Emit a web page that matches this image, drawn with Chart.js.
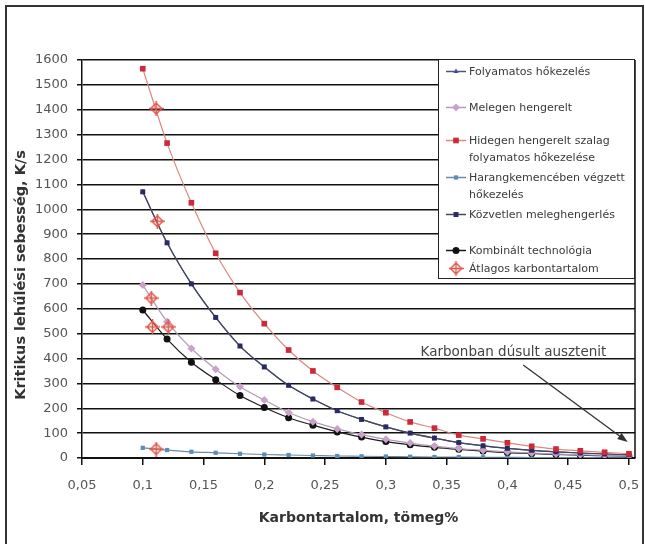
<!DOCTYPE html>
<html>
<head>
<meta charset="utf-8">
<title>Kritikus lehűlési sebesség</title>
<script src="https://cdn.jsdelivr.net/npm/chart.js@4.4.1/dist/chart.umd.min.js"></script>
<style>
  html, body { margin: 0; padding: 0; background: #fff; }
  #wrap { position: relative; width: 645px; height: 544px; overflow: hidden; }
  #legend {
    position: absolute; left: 438px; top: 59px; width: 197px; height: 220px;
    background: #fff; border: 1px solid #222; box-sizing: border-box;
    font-family: "DejaVu Sans", sans-serif; font-size: 11px; color: #3a3a3a;
  }
  .item { position: absolute; left: 6px; display: flex; align-items: flex-start; }
  .item canvas { width: 24px; height: 17px; }
  .item span { line-height: 17px; white-space: nowrap; }
</style>
</head>
<body>
<div id="wrap">
  <canvas id="chart" width="645" height="544"></canvas>
  <div id="legend"></div>
</div>
<script>
// x values (carbon content, mass %)
const carbon = [0.10, 0.12, 0.14, 0.16, 0.18, 0.20, 0.22, 0.24, 0.26, 0.28, 0.30,
                0.32, 0.34, 0.36, 0.38, 0.40, 0.42, 0.44, 0.46, 0.48, 0.50];

// critical cooling rate, K/s
const folyamatos  = [1070, 865, 700, 565, 450, 366, 292, 237, 190, 155, 125, 100, 80, 62, 49, 39, 31, 25, 20, 16, 13];
const melegen     = [695, 548, 440, 357, 286, 233, 183, 146, 117, 94, 75, 60, 48, 38, 31, 25, 20, 16, 13, 10, 8];
const hidegen     = [1565, 1266, 1026, 823, 665, 540, 434, 350, 284, 225, 182, 145, 120, 92, 77, 61, 47, 36, 29, 23, 17];
const harang      = [41, 32, 25, 21, 17, 14, 12, 10, 8, 7, 6, 5, 4, 4, 3, 3, 2, 2, 2, 1, 1];
const kozvetlen   = [1070, 865, 700, 565, 450, 366, 292, 237, 190, 155, 125, 100, 80, 62, 49, 39, 31, 25, 20, 16, 13];
const kombinalt   = [595, 478, 385, 315, 251, 203, 162, 132, 105, 84, 66, 53, 43, 35, 28, 22, 18, 14, 11, 9, 7];

// average carbon content markers
const atlagX = [0.111, 0.112, 0.107, 0.108, 0.121, 0.111];
const atlagY = [1405, 952, 643, 527, 527, 36];

// annotation
const noteText = 'Karbonban dúsult ausztenit';
const noteAt = [0.405, 425];
const arrowFrom = [0.413, 374];
const arrowTo = [0.499, 64];

const yTitle = 'Kritikus lehűlési sebesség, K/s';
const xTitle = 'Karbontartalom, tömeg%';

function pts(xs, ys) { return xs.map((x, i) => ({ x: x, y: ys[i] })); }

// little diamond with a cross for the average markers
function starImg() {
  const c = document.createElement('canvas');
  c.width = 15; c.height = 15;
  const g = c.getContext('2d');
  g.strokeStyle = '#e0584c';
  g.lineWidth = 1.5;
  g.beginPath();
  g.moveTo(7.5, 2); g.lineTo(13, 7.5); g.lineTo(7.5, 13); g.lineTo(2, 7.5); g.closePath();
  g.stroke();
  g.beginPath();
  g.moveTo(7.5, 0); g.lineTo(7.5, 15);
  g.moveTo(0, 7.5); g.lineTo(15, 7.5);
  g.stroke();
  return c;
}
const star = starImg();

function series(label, ys, line, mark, style, r, order) {
  return {
    label: label,
    data: pts(carbon, ys),
    borderColor: line,
    borderWidth: 1.2,
    backgroundColor: mark,
    pointBackgroundColor: mark,
    pointBorderColor: mark,
    pointBorderWidth: 0,
    pointStyle: style,
    pointRadius: r,
    cubicInterpolationMode: 'monotone',
    showLine: true,
    order: order
  };
}

const datasets = [
  {
    label: 'Átlagos karbontartalom',
    data: pts(atlagX, atlagY),
    showLine: false,
    pointStyle: star,
    borderColor: '#e0584c',
    backgroundColor: '#e0584c',
    order: 0
  },
  series('Hidegen hengerelt szalag folyamatos hőkezelése', hidegen, '#d98a80', '#cc2a3a', 'rect', 4, 1),
  series('Közvetlen meleghengerlés', kozvetlen, '#45455f', '#2a2a66', 'rect', 3.5, 2),
  series('Folyamatos hőkezelés', folyamatos, '#4a5580', '#3e4f96', 'triangle', 3, 3),
  series('Melegen hengerelt', melegen, '#b39ab8', '#c8a2c8', 'rectRot', 4, 4),
  series('Kombinált technológia', kombinalt, '#1a1a1a', '#111111', 'circle', 3.5, 5),
  series('Harangkemencében végzett hőkezelés', harang, '#6a8aa8', '#5b8db5', 'rect', 3, 6)
];

const frame = {
  id: 'frame',
  beforeDraw(chart) {
    const ctx = chart.ctx;
    ctx.save();
    ctx.fillStyle = '#fff';
    ctx.fillRect(0, 0, chart.width, chart.height);
    ctx.strokeStyle = '#333';
    ctx.lineWidth = 2;
    ctx.strokeRect(6, 6, 637, 560);
    ctx.restore();
  },
  afterDraw(chart) {
    const a = chart.chartArea, ctx = chart.ctx;
    ctx.save();
    ctx.strokeStyle = '#111';
    ctx.lineWidth = 1.5;
    ctx.beginPath();
    ctx.moveTo(a.right, a.top);
    ctx.lineTo(a.right, a.bottom);
    ctx.stroke();
    // y axis title, placed a little below the middle like the original
    ctx.translate(21, 275);
    ctx.rotate(-Math.PI / 2);
    ctx.font = 'bold 14.5px "DejaVu Sans", sans-serif';
    ctx.fillStyle = '#333';
    ctx.textAlign = 'center';
    ctx.textBaseline = 'middle';
    ctx.fillText(yTitle, 0, 0);
    ctx.restore();
  }
};

const note = {
  id: 'note',
  afterDatasetsDraw(chart) {
    const ctx = chart.ctx, x = chart.scales.x, y = chart.scales.y;
    ctx.save();
    ctx.font = '13.5px "DejaVu Sans", sans-serif';
    ctx.fillStyle = '#444';
    ctx.textAlign = 'center';
    ctx.textBaseline = 'middle';
    ctx.fillText(noteText, x.getPixelForValue(noteAt[0]), y.getPixelForValue(noteAt[1]));
    const x1 = x.getPixelForValue(arrowFrom[0]), y1 = y.getPixelForValue(arrowFrom[1]);
    const x2 = x.getPixelForValue(arrowTo[0]), y2 = y.getPixelForValue(arrowTo[1]);
    const ang = Math.atan2(y2 - y1, x2 - x1);
    ctx.strokeStyle = '#333';
    ctx.fillStyle = '#333';
    ctx.lineWidth = 1.3;
    ctx.beginPath();
    ctx.moveTo(x1, y1);
    ctx.lineTo(x2 - 8 * Math.cos(ang), y2 - 8 * Math.sin(ang));
    ctx.stroke();
    ctx.beginPath();
    ctx.moveTo(x2, y2);
    ctx.lineTo(x2 - 11 * Math.cos(ang - 0.35), y2 - 11 * Math.sin(ang - 0.35));
    ctx.lineTo(x2 - 11 * Math.cos(ang + 0.35), y2 - 11 * Math.sin(ang + 0.35));
    ctx.closePath();
    ctx.fill();
    ctx.restore();
  }
};

const tickFont = { family: '"DejaVu Sans", sans-serif', size: 13 };

const chart = new Chart(document.getElementById('chart').getContext('2d'), {
  type: 'scatter',
  data: { datasets: datasets },
  options: {
    responsive: false,
    animation: false,
    layout: { padding: { left: 0, top: 60, right: 10, bottom: 0 } },
    plugins: { legend: { display: false }, tooltip: { enabled: false } },
    scales: {
      x: {
        type: 'linear',
        min: 0.05, max: 0.505,
        // fixed axis height; the labels may hang over the plot edges
        afterFit: s => { s.height = 86; s.paddingLeft = 0; s.paddingRight = 0; },
        ticks: {
          stepSize: 0.05,
          includeBounds: false,
          color: '#555',
          font: tickFont,
          padding: 13,
          maxRotation: 0,
          callback: v => String(Math.round(v * 100) / 100).replace('.', ',')
        },
        grid: { drawOnChartArea: false, color: '#111', lineWidth: 1.5, tickLength: 7 },
        border: { color: '#111', width: 2 },
        title: {
          display: true, text: xTitle, color: '#333',
          font: { family: '"DejaVu Sans", sans-serif', size: 14, weight: 'bold' },
          padding: { top: 0, bottom: 17 }
        }
      },
      y: {
        min: 0, max: 1600,
        afterFit: s => { s.width = 82; },
        ticks: { stepSize: 100, color: '#555', font: tickFont, padding: 9, callback: v => String(v) },
        grid: { color: '#111', lineWidth: 1.5, tickLength: 5 },
        border: { color: '#111', width: 1.5 },
        title: { display: false }
      }
    }
  },
  plugins: [frame, note]
});

// legend built from the datasets, laid over the top right of the plot
const legendRows = [
  ['Folyamatos hőkezelés', 3],
  ['Melegen hengerelt', 39],
  ['Hidegen hengerelt szalag folyamatos hőkezelése', 72, 'Hidegen hengerelt szalag<br>folyamatos hőkezelése'],
  ['Harangkemencében végzett hőkezelés', 109, 'Harangkemencében végzett<br>hőkezelés'],
  ['Közvetlen meleghengerlés', 146],
  ['Kombinált technológia', 182],
  ['Átlagos karbontartalom', 200]
];
const legendEl = document.getElementById('legend');
legendRows.forEach(row => {
  const ds = datasets.find(d => d.label === row[0]);
  const item = document.createElement('div');
  item.className = 'item';
  item.style.top = row[1] + 'px';
  const c = document.createElement('canvas');
  c.width = 24; c.height = 17;
  const g = c.getContext('2d');
  if (ds.showLine !== false) {
    g.strokeStyle = ds.borderColor;
    g.lineWidth = 1.5;
    g.beginPath(); g.moveTo(1, 8.5); g.lineTo(21, 8.5); g.stroke();
    g.fillStyle = ds.pointBackgroundColor;
    g.strokeStyle = ds.pointBorderColor;
    Chart.helpers.drawPoint(g, { pointStyle: ds.pointStyle, radius: ds.pointRadius, rotation: 0, borderWidth: 0 }, 11, 8.5);
  } else {
    g.drawImage(star, 11 - 7.5, 1);
  }
  const t = document.createElement('span');
  t.innerHTML = row[2] || row[0];
  item.appendChild(c);
  item.appendChild(t);
  legendEl.appendChild(item);
});
</script>
</body>
</html>
